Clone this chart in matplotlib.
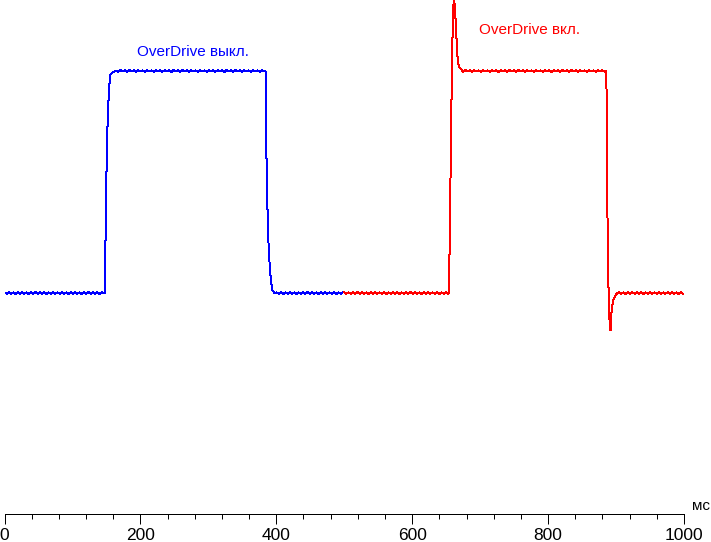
import numpy as np
import matplotlib
matplotlib.use("Agg")
import matplotlib.pyplot as plt
from matplotlib.ticker import MultipleLocator

plt.rcParams['font.family'] = ['Liberation Sans', 'DejaVu Sans']

# ---------------- data (time in ms, response in % of full step) ----------------
RIPPLE_STEP = 3.25  # ms between ripple samples in flat parts

# OverDrive off (blue)
blue_low1_start = 0.0
blue_low1 = [0.3, -0.3, 0.3, -0.4, 0.3, -0.3, 0.4, -0.3, 0.3, -0.3,
             0.3, -0.4, 0.3, -0.3, 0.4, -0.3, 0.3, -0.3, 0.3, -0.4,
             0.3, -0.3, 0.4, -0.3, 0.3, -0.3, 0.3, -0.4, 0.3, -0.3,
             0.4, -0.3, 0.3, -0.3, 0.3, -0.4, 0.3, -0.3, 0.4, -0.3,
             0.3, -0.3, 0.3, -0.4, 0.3]
blue_rise_t = [146.2, 147.7, 148.5, 149.9, 151.4, 152.9, 154.3, 155.8, 158.0]
blue_rise_v = [0.2, 0.0, 20.7, 51.8, 73.4, 86.0, 93.7, 98.2, 99.3]
blue_high_start = 161.0
blue_high = [99.6, 100.2, 99.7, 100.4, 99.8, 100.3, 99.7, 100.4, 99.8, 100.3,
             99.7, 100.4, 99.8, 100.3, 99.6, 100.4, 99.8, 100.3, 99.7, 100.4,
             99.8, 100.3, 99.7, 100.4, 99.8, 100.3, 99.6, 100.4, 99.8, 100.3,
             99.7, 100.4, 99.8, 100.3, 99.7, 100.4, 99.8, 100.3, 99.6, 100.4,
             99.8, 100.3, 99.7, 100.4, 99.8, 100.3, 99.7, 100.4, 99.8, 100.3,
             99.6, 100.4, 99.8, 100.3, 99.7, 100.4, 99.8, 100.3, 99.7, 100.4,
             99.8, 100.3, 99.6, 100.4, 99.8, 100.3, 99.7, 100.4, 99.8]
blue_fall_t = [384.4, 385.0, 386.6, 388.0, 389.5, 391.0, 392.5, 394.0, 397.6]
blue_fall_v = [99.8, 70.3, 43.2, 26.0, 16.2, 9.5, 5.0, 1.4, 0.0]
blue_low2_start = 400.5
blue_low2 = [0.3, -0.3, 0.3, -0.4, 0.3, -0.3, 0.4, -0.3, 0.3, -0.3,
             0.3, -0.4, 0.3, -0.3, 0.4, -0.3, 0.3, -0.3, 0.3, -0.4,
             0.3, -0.3, 0.4, -0.3, 0.3, -0.3, 0.3, -0.4, 0.3, -0.3,
             0.3]

# OverDrive on (red)
red_low1_start = 500.0
red_low1 = [0.3, -0.3, 0.3, -0.4, 0.3, -0.3, 0.4, -0.3, 0.3, -0.3,
            0.3, -0.4, 0.3, -0.3, 0.4, -0.3, 0.3, -0.3, 0.3, -0.4,
            0.3, -0.3, 0.4, -0.3, 0.3, -0.3, 0.3, -0.4, 0.3, -0.3,
            0.4, -0.3, 0.3, -0.3, 0.3, -0.4, 0.3, -0.3, 0.4, -0.3,
            0.3, -0.3, 0.3, -0.4, 0.3, -0.3, 0.3, -0.4]
red_rise_t = [654.0, 655.4, 657.3, 658.8, 660.2, 661.7, 663.2, 664.6, 666.1,
              667.6, 669.0, 670.5, 673.0]
red_rise_v = [0.0, 27.0, 75.7, 108.0, 128.0, 133.0, 126.6, 118.5, 108.6,
              103.6, 101.8, 101.4, 100.5]
red_high_start = 675.0
red_high = [99.7, 100.4, 99.8, 100.3, 99.6, 100.4, 99.8, 100.3, 99.7, 100.4,
            99.8, 100.3, 99.7, 100.4, 99.8, 100.3, 99.6, 100.4, 99.8, 100.3,
            99.7, 100.4, 99.8, 100.3, 99.7, 100.4, 99.8, 100.3, 99.6, 100.4,
            99.8, 100.3, 99.7, 100.4, 99.8, 100.3, 99.7, 100.4, 99.8, 100.3,
            99.6, 100.4, 99.8, 100.3, 99.7, 100.4, 99.8, 100.3, 99.7, 100.4,
            99.8, 100.3, 99.6, 100.4, 99.8, 100.3, 99.7, 100.4, 99.8, 100.3,
            99.7, 100.4, 99.8, 100.3, 99.7]
red_fall_t = [885.8, 886.6, 888.0, 889.2, 890.7, 891.6, 892.6, 893.2, 894.6,
              896.5, 898.6, 901.6]
red_fall_v = [100.0, 55.4, 18.5, -3.2, -14.4, -16.7, -16.7, -9.0, -5.4,
              -2.7, -1.4, 0.0]
red_low2_start = 904.5
red_low2 = [0.3, -0.3, 0.3, -0.4, 0.3, -0.3, 0.4, -0.3, 0.3, -0.3,
            0.3, -0.4, 0.3, -0.3, 0.4, -0.3, 0.3, -0.3, 0.3, -0.4,
            0.3, -0.3, 0.4, -0.3, 0.3, -0.3, 0.3, -0.4, 0.3, -0.3]

label_off = "OverDrive выкл."
label_on = "OverDrive вкл."
label_off_pos = (277, 108.6)
label_on_pos = (773, 118.5)
x_unit = "мс"
x_ticks_major = [0, 200, 400, 600, 800, 1000]


def flat(start, vals):
    t = start + RIPPLE_STEP * np.arange(len(vals))
    return list(t), list(vals)


def build(parts):
    ts, vs = [], []
    for t, v in parts:
        ts += list(t)
        vs += list(v)
    return np.array(ts), np.array(vs)


blue_t, blue_v = build([flat(blue_low1_start, blue_low1),
                        (blue_rise_t, blue_rise_v),
                        flat(blue_high_start, blue_high),
                        (blue_fall_t, blue_fall_v),
                        flat(blue_low2_start, blue_low2)])
red_t, red_v = build([flat(red_low1_start, red_low1),
                      (red_rise_t, red_rise_v),
                      flat(red_high_start, red_high),
                      (red_fall_t, red_fall_v),
                      flat(red_low2_start, red_low2)])

# ---------------- figure ----------------
W, H = 711, 542
fig = plt.figure(figsize=(W / 100, H / 100), dpi=100)
ax = fig.add_axes([4.5 / W, (H - 514) / H, 679.5 / W, 514 / H])
ax.set_xlim(0, 1000)
ax.set_ylim(-99.5, 132)

ax.plot(blue_t, blue_v, color='#0000ff', lw=0.72, antialiased=False)
ax.plot(red_t, red_v, color='#ff0000', lw=0.72, antialiased=False)

ax.text(*label_off_pos, label_off, color='#0000ff', fontsize=11,
        ha='center', va='center')
ax.text(*label_on_pos, label_on, color='#ff0000', fontsize=11,
        ha='center', va='center')

for s in ['top', 'left', 'right']:
    ax.spines[s].set_visible(False)
ax.spines['bottom'].set_linewidth(0.72)
ax.set_yticks([])
ax.set_xticks(x_ticks_major)
ax.xaxis.set_minor_locator(MultipleLocator(40))
ax.tick_params(axis='x', which='major', length=7.2, width=0.72, pad=3,
               labelsize=12.5, direction='out')
ax.tick_params(axis='x', which='minor', length=3.6, width=0.72,
               direction='out')
ax.text(1.012, 0.016, x_unit, transform=ax.transAxes, fontsize=11,
        ha='left', va='center')

fig.savefig("out.png", dpi=100)
